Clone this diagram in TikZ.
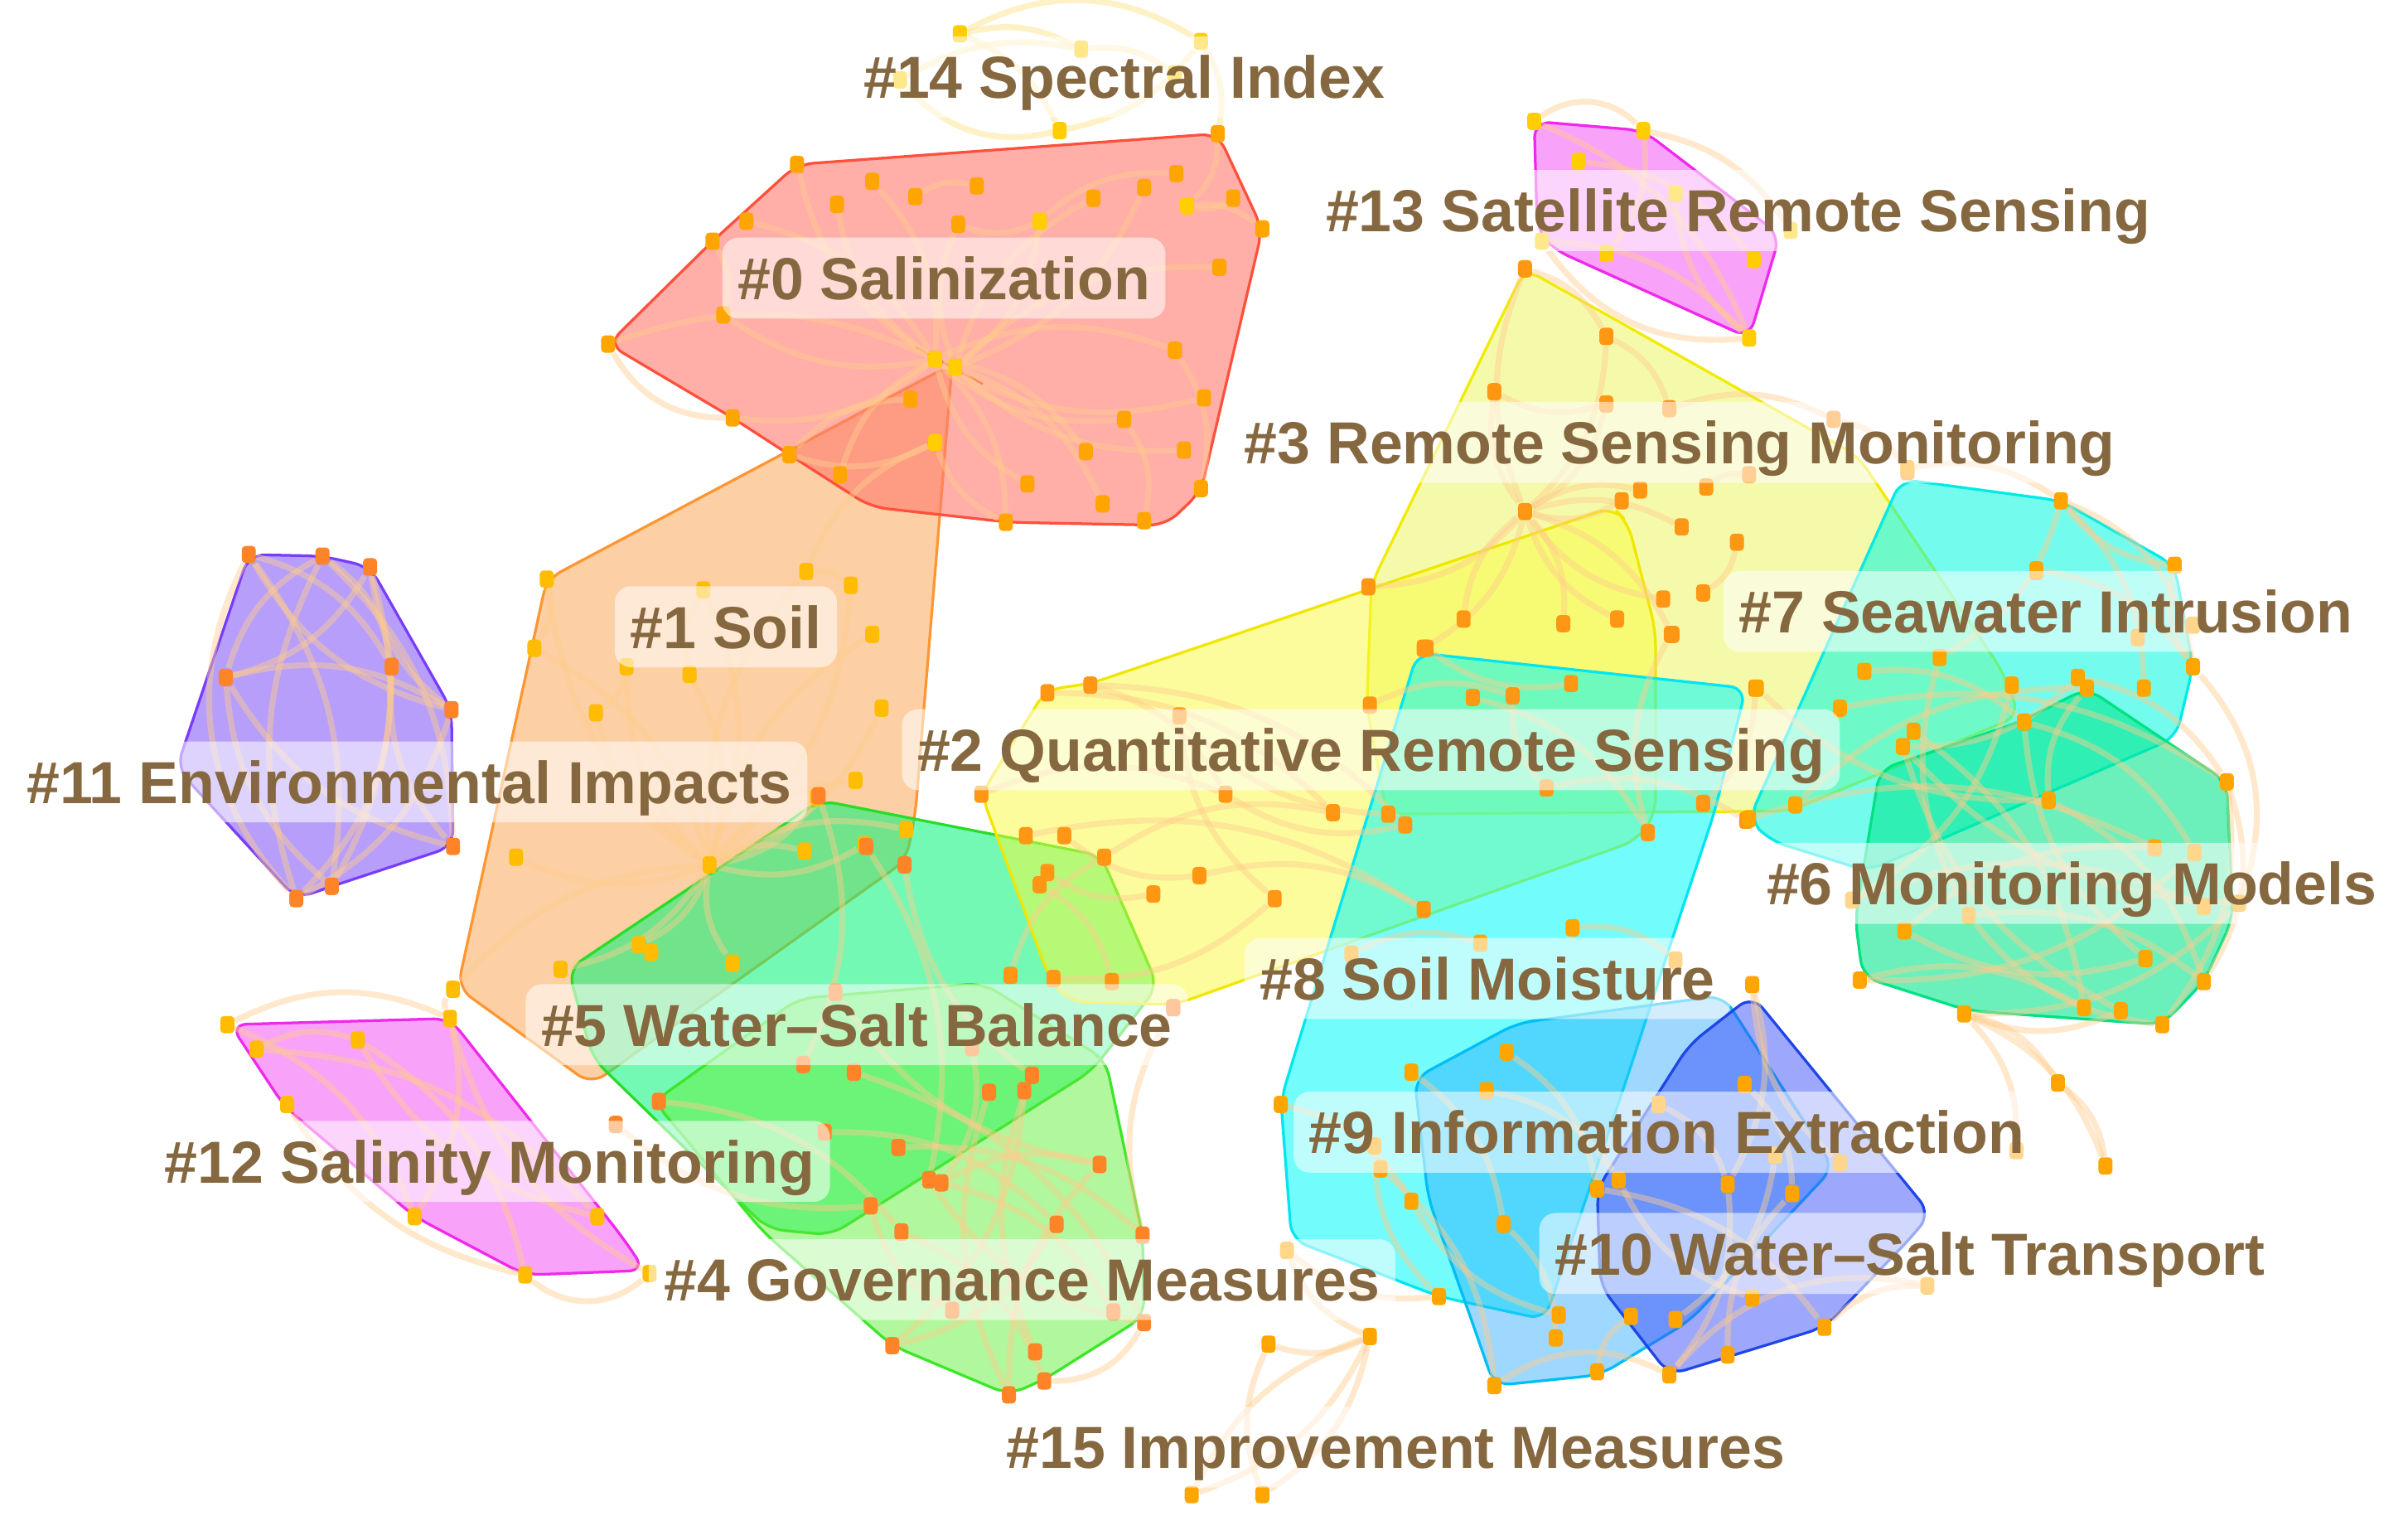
\documentclass[tikz,border=0pt]{standalone}
\usepackage{fontspec}
\setmainfont{Liberation Sans}
\definecolor{lblc}{RGB}{134,104,64}
\definecolor{linkc}{RGB}{255,205,140}
\definecolor{linky}{RGB}{255,232,160}
\definecolor{dA}{RGB}{255,165,0}
\definecolor{dY}{RGB}{255,205,0}
\definecolor{dB}{RGB}{255,188,0}
\definecolor{dD}{RGB}{255,132,40}
\definecolor{dG}{RGB}{255,150,20}
\definecolor{fc0}{RGB}{255,120,110}\definecolor{bc0}{RGB}{255,80,60}
\definecolor{fc1}{RGB}{250,170,90}\definecolor{bc1}{RGB}{255,150,50}
\definecolor{fc11}{RGB}{140,100,250}\definecolor{bc11}{RGB}{120,60,250}
\definecolor{fc12}{RGB}{245,100,245}\definecolor{bc12}{RGB}{240,40,235}
\definecolor{fc2}{RGB}{250,250,60}\definecolor{bc2}{RGB}{240,230,0}
\definecolor{fc3}{RGB}{235,245,70}\definecolor{bc3}{RGB}{240,235,0}
\definecolor{fc8}{RGB}{0,250,250}\definecolor{bc8}{RGB}{0,230,240}
\definecolor{fc9}{RGB}{40,170,255}\definecolor{bc9}{RGB}{0,190,245}
\definecolor{fc10}{RGB}{60,80,250}\definecolor{bc10}{RGB}{30,70,230}
\definecolor{fc6}{RGB}{0,230,140}\definecolor{bc6}{RGB}{0,225,130}
\definecolor{fc7}{RGB}{0,250,225}\definecolor{bc7}{RGB}{0,235,230}
\definecolor{fc5}{RGB}{0,245,120}\definecolor{bc5}{RGB}{40,220,40}
\definecolor{fc4}{RGB}{100,240,60}\definecolor{bc4}{RGB}{60,230,40}
\pgfdeclarelayer{hulls}
\pgfdeclarelayer{links}
\pgfsetlayers{hulls,links,main}
\tikzset{
  dot/.style={rectangle, rounded corners=1.4pt, minimum width=5.2pt, minimum height=6.4pt, inner sep=0pt, fill=dA, draw=none},
  link/.style={draw=linkc, line width=2.2pt, draw opacity=0.45},
  ylink/.style={draw=linky, line width=2.2pt, draw opacity=0.6},
  poly/.style={line width=1pt, rounded corners=6pt, line join=round},
  lbl/.style={anchor=west, fill=white, fill opacity=0.55, text opacity=1, text=lblc, rounded corners=6pt,
    inner xsep=5.7pt, inner ysep=2.5pt, text height=20.5pt, text depth=4.5pt,
    font=\fontsize{22pt}{26pt}\selectfont\bfseries},
}
\begin{document}
\begin{tikzpicture}[x=0.02cm,y=-0.02cm]
\useasboundingbox (0,0) rectangle (1568,1002);
\begin{pgfonlayer}{hulls}
\fill[white] (0,0) rectangle (1568,1002);
\filldraw[poly, fill=fc11, fill opacity=0.62, draw=bc11] (162,361) -- (210,362) -- (241,369) -- (294,462) -- (295,551) -- (216,577) -- (193,585) -- (115,500) -- cycle;
\filldraw[poly, fill=fc12, fill opacity=0.6, draw=bc12] (150,667) -- (293,663) -- (405,805) -- (420,827) -- (342,830) -- (270,792) -- (185,720) -- cycle;
\filldraw[poly, fill=fc12, fill opacity=0.6, draw=bc12] (999,79) -- (1070,85) -- (1159,153) -- (1139,220) -- (1011,162) -- (1001,150) -- cycle;
\filldraw[poly, fill=fc1, fill opacity=0.55, draw=bc1] (620,237) -- (356,377) -- (298,643) -- (385,706) -- (590,560) -- (596,530) -- cycle;
\filldraw[poly, fill=fc0, fill opacity=0.6, draw=bc0] (396,224) -- (464,157) -- (519,107) -- (793,87) -- (822,149) -- (782,320) -- (759,342) -- (657,340) -- (567,330) -- (514,296) -- (477,272) -- cycle;
\draw[draw=bc0, line width=0.8pt] (596,226) -- (640,250);
\filldraw[poly, fill=fc5, fill opacity=0.55, draw=bc5] (370,631) -- (534,521) -- (717,557) -- (754,642) -- (711,697) -- (541,804) -- (500,800) -- (386,689) -- cycle;
\filldraw[poly, fill=fc4, fill opacity=0.5, draw=bc4] (426,717) -- (520,650) -- (640,640) -- (720,690) -- (744,804) -- (745,857) -- (680,898) -- (657,908) -- (581,876) -- (497,802) -- cycle;
\filldraw[poly, fill=fc3, fill opacity=0.45, draw=bc3] (993,175) -- (1210,297) -- (1304,437) -- (1315,466) -- (1165,528) -- (903,530) -- (890,460) -- (893,380) -- cycle;
\filldraw[poly, fill=fc2, fill opacity=0.5, draw=bc2] (639,517) -- (681,449) -- (710,445) -- (1050,330) -- (1060,340) -- (1078,410) -- (1078,530) -- (1066,547) -- (765,654) -- (696,652) -- (683,636) -- cycle;
\filldraw[poly, fill=fc8, fill opacity=0.55, draw=bc8] (923,425) -- (1137,448) -- (1116,530) -- (1088,614) -- (1060,700) -- (1006,859) -- (937,844) -- (841,807) -- (834,716) -- cycle;
\filldraw[poly, fill=fc9, fill opacity=0.45, draw=bc9] (921,702) -- (988,666) -- (1122,648) -- (1194,760) -- (1100,860) -- (1042,895) -- (973,902) -- (957,856) -- (930,780) -- cycle;
\filldraw[poly, fill=fc10, fill opacity=0.5, draw=bc10] (1141,648) -- (1257,790) -- (1245,805) -- (1188,864) -- (1087,895) -- (1042,837) -- (1040,774) -- (1100,680) -- cycle;
\filldraw[poly, fill=fc7, fill opacity=0.55, draw=bc7] (1238,312) -- (1342,326) -- (1416,368) -- (1428,434) -- (1417,480) -- (1216,567) -- (1152,547) -- (1139,533) -- cycle;
\filldraw[poly, fill=fc6, fill opacity=0.58, draw=bc6] (1224,501) -- (1315,470) -- (1359,448) -- (1450,509) -- (1454,598) -- (1435,639) -- (1408,667) -- (1282,658) -- (1213,636) -- (1208,598) -- cycle;
\end{pgfonlayer}
% ---------- nodes ----------
\foreach \n/\x/\y in {a1/519/107,a2/568/118,a3/596/128,a4/636/121,a5/545/133,a6/486/144,a7/464/157,a8/624/146,a9/712/129,a10/745/122,a11/766/113,a12/803/129,a13/822/149,a14/794/174,a15/765/228,a16/784/259,a17/732/273,a18/707/294,a19/771/293,a20/782/318,a21/718/328,a22/745/339,a23/655/340,a24/669/315,a25/547/309,a26/514/296,a27/477/272,a28/471/205,a29/593/260,a30/396/224,a31/793/87}
  \node[dot] (\n) at (\x,\y) {};
\foreach \n/\x/\y in {ay1/677/144,ay2/773/134,ay3/609/234,ay4/622/239,ay5/609/288}
  \node[dot, fill=dY] (\n) at (\x,\y) {};
\foreach \n/\x/\y in {b1/356/377,b2/525/372,b3/554/381,b4/568/413,b5/574/461,b6/557/508,b7/532/519,b8/388/464,b9/449/439,b10/408/434,b11/348/422,b12/336/558,b13/462/563,b14/416/615,b15/424/620,b16/477/627,b17/365/631,b18/295/644,b19/590/540,b20/458/384,b21/524/554,b22/563/550}
  \node[dot, fill=dB] (\n) at (\x,\y) {};
\foreach \n/\x/\y in {c1/162/361,c2/210/362,c3/241/369,c4/255/434,c5/147/441,c6/294/462,c7/295/551,c8/216/577,c9/193/585}
  \node[dot, fill=dD] (\n) at (\x,\y) {};
\foreach \n/\x/\y in {d1/148/667,d2/167/683,d3/233/677,d4/293/663,d5/187/719,d6/270/792,d7/342/830,d8/389/792,d9/423/829}
  \node[dot, fill=dB] (\n) at (\x,\y) {};
\foreach \n/\x/\y in {e1/999/79,e2/1070/85,e3/1028/105,e4/1091/126,e5/1046/165,e6/1142/169,e7/1139/220,e8/1004/157,e9/1166/150}
  \node[dot, fill=dY] (\n) at (\x,\y) {};
\foreach \n/\x/\y in {f1/625/22,f2/704/32,f3/782/27,f4/586/52,f5/690/85,f6/765/48}
  \node[dot, fill=dY] (\n) at (\x,\y) {};
\foreach \n/\x/\y in {g1/682/451,g2/710/446,g3/768/466,g4/639/517,g5/798/517,g6/868/529,g7/904/530,g8/915/537,g9/668/544,g10/693/544,g11/719/558,g12/682/568,g13/677/576,g14/781/570,g15/751/582,g16/830/585,g17/927/592,g18/658/635,g19/686/637,g20/724/639,g21/892/459,g22/929/422,g23/959/454,g24/985/453,g25/1023/445,g26/1007/513,g27/1109/523,g28/1073/542,g29/1137/534,g30/1143/448,g31/1088/413,g32/764/656}
  \node[dot, fill=dG] (\n) at (\x,\y) {};
\foreach \n/\x/\y in {h1/993/175,h2/1046/219,h3/973/255,h4/1046/263,h5/1087/266,h6/1194/273,h7/1139/309,h8/1111/317,h9/1068/319,h10/1056/326,h11/993/333,h12/1095/343,h13/1131/353,h14/891/382,h15/1109/386,h16/1083/390,h17/1089/413,h18/1053/403,h19/1018/406,h20/953/403,h21/927/422,h22/1242/307,h23/1326/372}
  \node[dot, fill=dG] (\n) at (\x,\y) {};
\foreach \n/\x/\y in {k1/1024/604,k2/964/614,k3/1091/625,k4/981/685,k5/919/698,k6/968/710,k7/834/719,k8/1080/719,k9/1136/706,k10/895/746,k11/899/761,k12/919/782,k13/979/797,k14/1040/774,k15/1054/768,k16/1125/771,k17/1167/777,k18/1198/757,k19/1156/752,k20/1141/641,k21/1141/845,k22/1188/864,k23/1125/882,k24/1087/895,k25/1091/859,k26/1062/857,k27/1015/856,k28/1013/871,k29/1040/893,k30/973/902,k31/937/844,k32/1255/837,k33/838/814,k34/880/621}
  \node[dot] (\n) at (\x,\y) {};
\foreach \n/\x/\y in {m1/1242/305,m2/1342/326,m3/1416/368,m4/1326/371,m5/1428/434,m6/1392/415,m7/1428/407,m8/1396/448,m9/1353/441,m10/1359/448,m11/1310/446,m12/1263/428,m13/1214/437,m14/1144/448,m15/1198/461,m16/1318/470,m17/1246/476,m18/1239/486,m19/1334/521,m20/1169/524,m21/1139/533,m22/1450/509,m23/1403/552,m24/1429/555,m25/1282/596,m26/1206/586,m27/1458/588,m28/1435/590,m29/1397/624,m30/1435/639,m31/1357/656,m32/1381/658,m33/1408/667,m34/1279/660,m35/1211/638,m36/1240/606,m37/1340/705,m38/1371/759,m39/1313/749}
  \node[dot] (\n) at (\x,\y) {};
\foreach \n/\x/\y in {j1/564/551,j2/589/563,j3/429/717,j4/556/698,j5/644/711,j6/667/710,j7/672/700,j8/585/747,j9/605/768,j10/613/770,j11/567/785,j12/587/802,j13/716/758,j14/688/797,j15/744/804,j16/745/861,j17/674/880,j18/680/899,j19/657/908,j20/581/876,j21/401/732,j22/537/737,j23/544/646,j24/523/693,j25/620/853,j26/725/854,j27/633/682,j28/764/656,j29/533/518}
  \node[dot, fill=dD] (\n) at (\x,\y) {};
\foreach \n/\x/\y in {n1/892/870,n2/826/875,n3/776/973,n4/822/973}
  \node[dot] (\n) at (\x,\y) {};
% ---------- links (drawn beneath the nodes) ----------
\begin{pgfonlayer}{links}
\foreach \s/\t in {ay3/a1,ay3/a5,ay3/a28,ay3/a27,ay3/a23,ay3/a18,ay3/a15,ay4/a8,ay4/a9,ay4/a14,ay4/a21,ay1/a11,ay2/a13,a3/a4,a15/a20,ay5/a26,a31/ay2,a7/a28,
  b13/b1,b13/b2,b13/b4,b13/b6,b13/b8,b13/b10,b13/b12,b13/b14,b13/b17,b13/b19,b13/b21,b2/b3,b1/b11,b9/b20,b2/ay5,
  c1/c4,c1/c8,c2/c7,c3/c5,c3/c8,c4/c9,c5/c6,c6/c9,c2/c4,
  d1/d6,d2/d8,d3/d7,d4/d6,d2/d3,
  e1/e7,e2/e5,e3/e6,e8/e7,e2/e9,
  g2/g8,g1/g6,g4/g5,g9/g17,g11/g6,g13/g20,g18/g11,g14/g17,g21/g24,g23/g28,g26/g29,g30/g27,g2/g5,
  h11/h1,h11/h3,h11/h9,h11/h12,h11/h14,h11/h17,h11/h19,h11/h21,h1/h2,h2/h5,h5/h6,h13/h15,h6/h22,
  k5/k13,k4/k14,k7/k12,k6/k15,k1/k3,k20/k16,k9/k17,k14/k22,k16/k24,k19/k25,k13/k28,k11/k30,k8/k16,k22/k32,
  m1/m2,m2/m12,m4/m5,m2/m8,m9/m22,m11/m26,m13/m16,m15/m22,m17/m31,m19/m30,m20/m10,m21/m23,m22/m33,m24/m35,m26/m28,m27/m34,m29/m36,m32/m34,m9/m18,m16/m24,
  m34/m37,m34/m38,m34/m39,m37/m38,
  j29/j24,j1/j9,j3/j12,j4/j16,j6/j20,j8/j15,j10/j26,j12/j18,j14/j20,j22/j14,j27/j10,j10/j13,
  n1/n2,n1/n3,n1/n4,n1/k33}
  \draw[link] (\s) to[bend left=22] (\t);
\foreach \s/\t in {ay3/a2,ay3/a6,ay3/a30,ay3/a25,ay3/a24,ay3/a17,ay3/a16,ay4/ay1,ay4/a10,ay4/a19,ay2/a12,a8/ay1,a22/a17,ay5/a23,a29/a26,
  b13/b3,b13/b5,b13/b7,b13/b9,b13/b11,b13/b16,b13/b18,b13/b20,b13/b22,b8/b10,
  c1/c6,c2/c5,c2/c9,c3/c6,c4/c7,c5/c7,c5/c8,
  d4/d9,d3/d8,d5/d7,
  e4/e7,
  g3/g16,g10/g14,g12/g15,g19/g16,g5/g8,g22/g25,g24/g26,g31/g28,g3/g7,
  h11/h2,h11/h4,h11/h10,h11/h16,h11/h18,h11/h20,h3/h4,h7/h8,
  k10/k31,k2/k34,k20/k18,k15/k21,k17/k23,k12/k27,k26/k29,k33/k31,
  m2/m3,m3/m5,m10/m19,m12/m25,m14/m19,m16/m29,m18/m32,m23/m36,m25/m33,m31/m35,m30/m25,m18/m27,
  j2/j7,j5/j19,j7/j17,j9/j16,j11/j25,j13/j19,j21/j11,j23/j13,j28/j15,
  n1/n3,n2/n4}
  \draw[link] (\s) to[bend right=22] (\t);
\draw[link] (c1) to[bend right=35] (c9);
\draw[link] (d1) to[bend left=25] (d4);
\draw[link] (d7) to[bend right=40] (d9);
\draw[link] (e1) to[bend left=40] (e2);
\draw[link] (e7) to[bend left=30] (e8);
\draw[link] (m2) to[bend left=30] (m5);
\draw[link] (m5) to[bend left=30] (m27);
\draw[link] (m22) to[bend left=25] (m30);
\draw[link] (k24) to[bend left=30] (k32);
\draw[link] (k30) to[bend left=30] (k24);
\draw[link] (j16) to[bend left=30] (j18);
\draw[link] (a30) to[bend right=30] (a27);
\draw[link] (b18) to[bend right=30] (d4);
\foreach \s/\t in {f1/f2,f1/f5,f3/f5,f2/f6,f4/f2,f3/a31}
  \draw[ylink] (\s) to[bend left=20] (\t);
\draw[ylink] (f4) to[bend right=30] (f5);
\draw[ylink] (f1) to[bend left=30] (f3);
\end{pgfonlayer}
% ---------- labels ----------
\node[lbl] (l14) at (552,50) {\#14 Spectral Index};
\node[lbl] (l13) at (853,137) {\#13 Satellite Remote Sensing};
\node[lbl] (l0) at (470,181) {\#0 Salinization};
\node[lbl] (l3) at (800,288) {\#3 Remote Sensing Monitoring};
\node[lbl] (l1) at (400,408) {\#1 Soil};
\node[lbl] (l7) at (1122,398) {\#7 Seawater Intrusion};
\node[lbl] (l11) at (7,509) {\#11 Environmental Impacts};
\node[lbl] (l2) at (587,488) {\#2 Quantitative Remote Sensing};
\node[lbl] (l6) at (1140,575) {\#6 Monitoring Models};
\node[lbl] (l8) at (810,637) {\#8 Soil Moisture};
\node[lbl] (l5) at (342,667) {\#5 Water–Salt Balance};
\node[lbl] (l9) at (842,737) {\#9 Information Extraction};
\node[lbl] (l12) at (97,756) {\#12 Salinity Monitoring};
\node[lbl] (l10) at (1002,816) {\#10 Water–Salt Transport};
\node[lbl] (l4) at (422,833) {\#4 Governance Measures};
\node[lbl] (l15) at (645,942) {\#15 Improvement Measures};
\end{tikzpicture}
\end{document}
